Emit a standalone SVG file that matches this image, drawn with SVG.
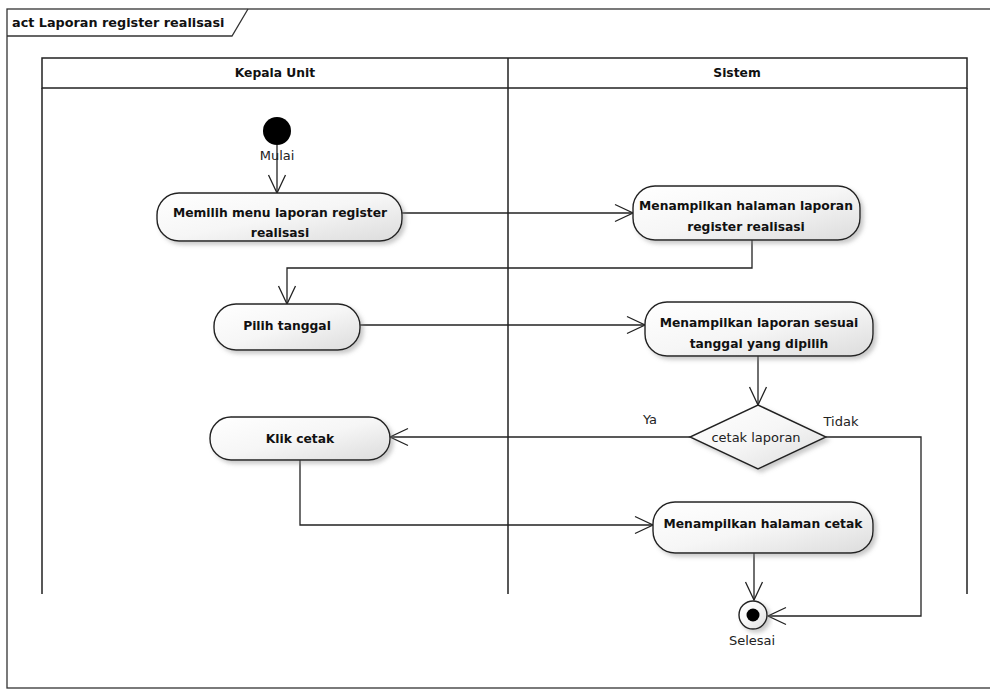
<svg xmlns="http://www.w3.org/2000/svg" width="990" height="690" viewBox="0 0 990 690">
<style>
.frame{fill:none;stroke:#333;stroke-width:1.3}
.lane{fill:none;stroke:#222;stroke-width:1.5}
.act{fill:url(#g);stroke:#222;stroke-width:1.4;filter:url(#sh)}
.b{font-family:"DejaVu Sans",Tahoma,sans-serif;font-size:12.3px;font-weight:bold;fill:#111;text-anchor:middle}
.n{font-family:"DejaVu Sans",Tahoma,sans-serif;font-size:13px;fill:#222;text-anchor:middle}
.c{fill:none;stroke:#222;stroke-width:1.3}
</style>
<defs>
<linearGradient id="g" x1="0" y1="0" x2="1" y2="1">
<stop offset="0" stop-color="#ffffff"/>
<stop offset="0.5" stop-color="#f6f6f6"/>
<stop offset="1" stop-color="#dcdcdc"/>
</linearGradient>
<filter id="sh" x="-10%" y="-20%" width="130%" height="160%">
<feDropShadow dx="3" dy="3" stdDeviation="2" flood-color="#888" flood-opacity="0.45"/>
</filter>
<marker id="arr" markerUnits="userSpaceOnUse" viewBox="0 0 20 20" markerWidth="20" markerHeight="20" refX="19" refY="10" orient="auto">
<path d="M1,1.5 L19,10 L1,18.5" fill="none" stroke="#222" stroke-width="1.3"/>
</marker>
</defs>
<rect width="990" height="690" fill="#fff"/>
<g id="frame">
<rect class="frame" x="7" y="9" width="990" height="679"/>
<path class="frame" d="M7,36 L232,36 L248,9"/>
<text x="12" y="27" font-family="DejaVu Sans,Tahoma,sans-serif" font-size="12.8" font-weight="bold" fill="#111">act Laporan register realisasi</text>
</g>
<g id="lanes">
<rect class="lane" x="42" y="58" width="925" height="30" fill="#fff"/>
<path class="lane" d="M42,88 V594 M508,58 V594 M967,88 V594"/>
<text class="b" x="275" y="77">Kepala Unit</text>
<text class="b" x="737" y="77">Sistem</text>
</g>
<g id="connectors">
<path class="c" d="M277,145 V193" marker-end="url(#arr)"/>
<path class="c" d="M402,213 H633" marker-end="url(#arr)"/>
<path class="c" d="M752,240 V268 H287 V304" marker-end="url(#arr)"/>
<path class="c" d="M360,325 H645" marker-end="url(#arr)"/>
<path class="c" d="M758,356 V405" marker-end="url(#arr)"/>
<path class="c" d="M690,437 H390" marker-end="url(#arr)"/>
<path class="c" d="M300,460 V525 H653" marker-end="url(#arr)"/>
<path class="c" d="M754,553 V600" marker-end="url(#arr)"/>
<path class="c" d="M826,437 H921 V616 H768" marker-end="url(#arr)"/>
<text class="n" x="650" y="424">Ya</text>
<text class="n" x="841" y="426">Tidak</text>
</g>
<g id="start">
<circle cx="277" cy="131" r="14" fill="#000"/>
<text class="n" x="277" y="160">Mulai</text>
</g>
<g id="act1">
<rect class="act" x="157" y="193" width="245" height="48" rx="22"/>
<text class="b" x="280" y="217">Memilih menu laporan register</text>
<text class="b" x="280" y="237">realisasi</text>
</g>
<g id="act2">
<rect class="act" x="633" y="186" width="227" height="54" rx="22"/>
<text class="b" x="746" y="210">Menampilkan halaman laporan</text>
<text class="b" x="746" y="231">register realisasi</text>
</g>
<g id="act3">
<rect class="act" x="214" y="304" width="146" height="46" rx="22"/>
<text class="b" x="287" y="330">Pilih tanggal</text>
</g>
<g id="act4">
<rect class="act" x="645" y="302" width="228" height="54" rx="22"/>
<text class="b" x="759" y="327">Menampilkan laporan sesuai</text>
<text class="b" x="759" y="348">tanggal yang dipilih</text>
</g>
<g id="decision">
<path class="act" d="M758,405 L826,437 L758,469 L690,437 Z"/>
<text class="n" x="756" y="442">cetak laporan</text>
</g>
<g id="act5">
<rect class="act" x="210" y="417" width="180" height="43" rx="21"/>
<text class="b" x="300" y="443">Klik cetak</text>
</g>
<g id="act6">
<rect class="act" x="653" y="502" width="220" height="51" rx="22"/>
<text class="b" x="763" y="528">Menampilkan halaman cetak</text>
</g>
<g id="end">
<circle cx="753" cy="615" r="14" fill="url(#g)" stroke="#222" stroke-width="1.4" filter="url(#sh)"/>
<circle cx="753" cy="615" r="6.5" fill="#000"/>
<text class="n" x="752" y="645">Selesai</text>
</g>
</svg>
